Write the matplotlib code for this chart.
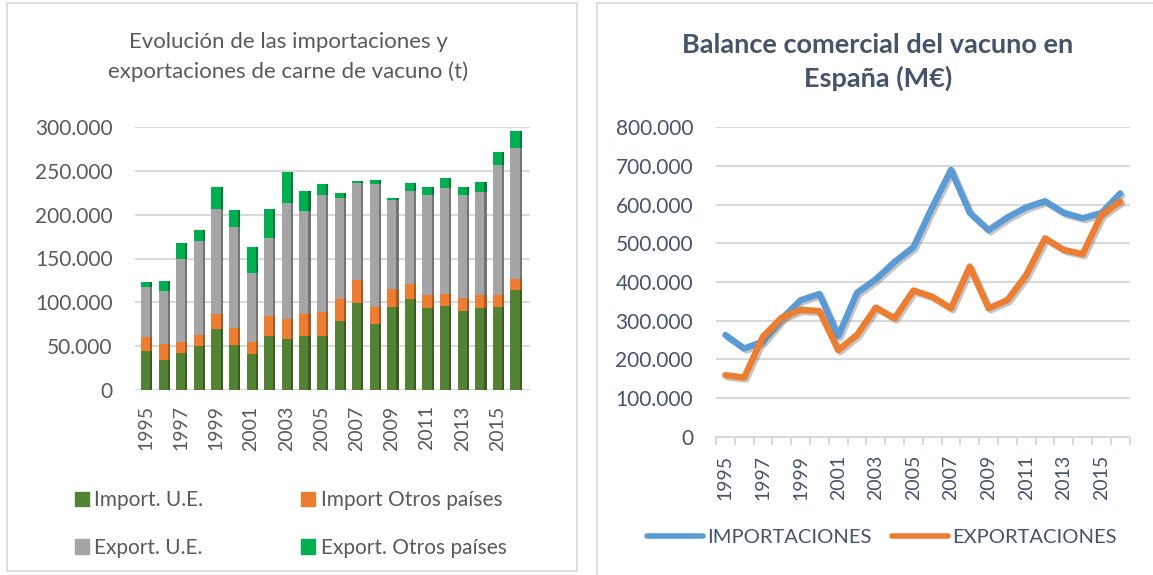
import matplotlib
matplotlib.use("Agg")
import matplotlib.pyplot as plt
import matplotlib.patheffects as pe
from matplotlib.patches import Patch, Rectangle
from matplotlib.lines import Line2D
from matplotlib.ticker import FuncFormatter, MultipleLocator, FixedLocator

plt.rcParams['font.family'] = ['Lato', 'DejaVu Sans']

# datos (años 1995-2016)
years = list(range(1995, 2017))
imp_ue = [44000, 34000, 42500, 49700, 70000, 51000, 41000, 62000, 58500, 62000, 62000,
          78600, 98700, 75800, 94800, 104000, 93000, 96000, 90000, 94000, 95000, 114000]
imp_otros = [16000, 18000, 12200, 13300, 17000, 19600, 14000, 22000, 22500, 24600, 26800,
             25400, 27300, 19000, 20200, 17000, 15000, 14000, 15000, 14000, 13500, 13000]
exp_ue = [58000, 61000, 95000, 107000, 120000, 115400, 78000, 89000, 132000, 117400, 134200,
          114700, 109800, 140200, 102000, 106000, 114000, 120000, 118000, 118000, 148500, 149000]
exp_otros = [5000, 11000, 18000, 12000, 25000, 19000, 30000, 33000, 36000, 23000, 12000,
             6000, 3000, 4000, 2500, 9000, 10000, 12000, 8000, 11000, 14000, 19000]

importaciones = [263000, 228000, 246000, 305000, 353000, 369000, 260000, 372000, 407000, 452000, 490000,
                 593000, 690000, 579000, 534000, 567000, 593000, 609000, 579000, 565000, 578000, 629000]
exportaciones = [159000, 153000, 259000, 308000, 328000, 325000, 224000, 263000, 334000, 306000, 378000,
                 362000, 332000, 440000, 332000, 353000, 418000, 513000, 483000, 472000, 573000, 608000]

W, H = 1153, 575
fig = plt.figure(figsize=(W / 100, H / 100), dpi=100)


def fx(px):
    return px / W


def fy(py):
    return 1 - py / H


def miles(v, pos):
    return f"{v:,.0f}".replace(",", ".")


# marcos de los dos gráficos
fig.patches.append(Rectangle((fx(7), fy(571)), fx(570), 568 / H, transform=fig.transFigure,
                             fill=False, edgecolor='#D9D9D9', lw=1.2))
fig.patches.append(Rectangle((fx(597), fy(590)), fx(600), 587 / H, transform=fig.transFigure,
                             fill=False, edgecolor='#D9D9D9', lw=1.2))

# ---------- gráfico izquierdo: barras apiladas ----------
gris_txt = '#595959'
ax1 = fig.add_axes([fx(135), fy(390), fx(530) - fx(135), fy(127) - fy(390)])
x = list(range(len(years)))
colores = ['#548235', '#ED7D31', '#A5A5A5', '#00B050']
lados = ['#3B5C25', '#A85820', '#747474', '#007B38']
nombres = ['Import. U.E.', 'Import Otros países', 'Export. U.E.', 'Export. Otros países']
series = [imp_ue, imp_otros, exp_ue, exp_otros]
base = [0] * len(years)
for vals, c, cl in zip(series, colores, lados):
    ax1.bar(x, vals, bottom=base, width=0.52, color=c, zorder=3)
    # cara lateral para el efecto 3D
    ax1.bar([i + 0.32 for i in x], vals, bottom=base, width=0.12, color=cl, zorder=3)
    base = [b + v for b, v in zip(base, vals)]

ax1.set_xlim(-0.6, 21.85)
ax1.set_ylim(0, 300000)
ax1.yaxis.set_major_locator(MultipleLocator(50000))
ax1.yaxis.set_major_formatter(FuncFormatter(miles))
ax1.grid(axis='y', color='#D9D9D9', lw=1.5, zorder=0)
for s in ax1.spines.values():
    s.set_visible(False)
ax1.set_xticks(x[::2])
ax1.set_xticklabels([str(y) for y in years[::2]], rotation=90)
ax1.tick_params(axis='x', length=0, pad=11, labelsize=14, labelcolor=gris_txt)
ax1.tick_params(axis='y', length=0, pad=16, labelsize=15, labelcolor=gris_txt)

fig.text(fx(288), fy(42), 'Evolución de las importaciones y', ha='center', va='center',
         fontsize=16, color=gris_txt)
fig.text(fx(288), fy(72), 'exportaciones de carne de vacuno (t)', ha='center', va='center',
         fontsize=16, color=gris_txt)

handles1 = [Patch(color=colores[0], label=nombres[0]), Patch(color=colores[2], label=nombres[2]),
            Patch(color=colores[1], label=nombres[1]), Patch(color=colores[3], label=nombres[3])]
fig.legend(handles=handles1, loc='upper left', bbox_to_anchor=(fx(75), fy(490)), ncol=2,
           frameon=False, fontsize=15, labelcolor=gris_txt, handlelength=0.68, handleheight=0.68,
           handletextpad=0.25, columnspacing=4.7, labelspacing=1.33, borderpad=0, borderaxespad=0)

# ---------- gráfico derecho: líneas ----------
pizarra = '#44546A'
ax2 = fig.add_axes([fx(716), fy(436.7), fx(1129.6) - fx(716), fy(127.3) - fy(436.7)])
sombra = [pe.SimpleLineShadow(offset=(1.5, -1.5), shadow_color='#808080', alpha=0.45), pe.Normal()]
ax2.plot(x, importaciones, color='#5B9BD5', lw=4.6, solid_capstyle='round',
         solid_joinstyle='round', path_effects=sombra, zorder=3)
ax2.plot(x, exportaciones, color='#ED7D31', lw=4.6, solid_capstyle='round',
         solid_joinstyle='round', path_effects=sombra, zorder=3)

ax2.set_xlim(-0.5, 21.5)
ax2.set_ylim(0, 800000)
ax2.yaxis.set_major_locator(MultipleLocator(100000))
ax2.yaxis.set_major_formatter(FuncFormatter(miles))
ax2.grid(axis='y', color='#D9D9D9', lw=1.5, zorder=0)
for k in ['top', 'right', 'left']:
    ax2.spines[k].set_visible(False)
ax2.spines['bottom'].set_color('#D9D9D9')
ax2.spines['bottom'].set_linewidth(1.5)
ax2.set_xticks(x[::2])
ax2.set_xticklabels([str(y) for y in years[::2]], rotation=90)
ax2.xaxis.set_minor_locator(FixedLocator([i - 0.5 for i in range(len(years) + 1)]))
ax2.tick_params(axis='x', which='major', length=0, pad=13, labelsize=14, labelcolor=pizarra)
ax2.tick_params(axis='x', which='minor', length=6, width=1.5, color='#D9D9D9')
ax2.tick_params(axis='y', length=0, pad=16.5, labelsize=15, labelcolor=pizarra)

fig.text(fx(878), fy(45), 'Balance comercial del vacuno en', ha='center', va='center',
         fontsize=19.5, fontweight='bold', color=pizarra)
fig.text(fx(878), fy(78), 'España (M€)', ha='center', va='center',
         fontsize=19.5, fontweight='bold', color=pizarra)

handles2 = [Line2D([], [], color='#5B9BD5', lw=4, solid_capstyle='round', label='IMPORTACIONES'),
            Line2D([], [], color='#ED7D31', lw=4, solid_capstyle='round', label='EXPORTACIONES')]
fig.legend(handles=handles2, loc='upper left', bbox_to_anchor=(fx(647), fy(529)), ncol=2,
           frameon=False, fontsize=14.5, labelcolor=pizarra, handlelength=2.8,
           handletextpad=0.2, columnspacing=1.0, borderpad=0, borderaxespad=0)

fig.savefig('out.png', dpi=100)
